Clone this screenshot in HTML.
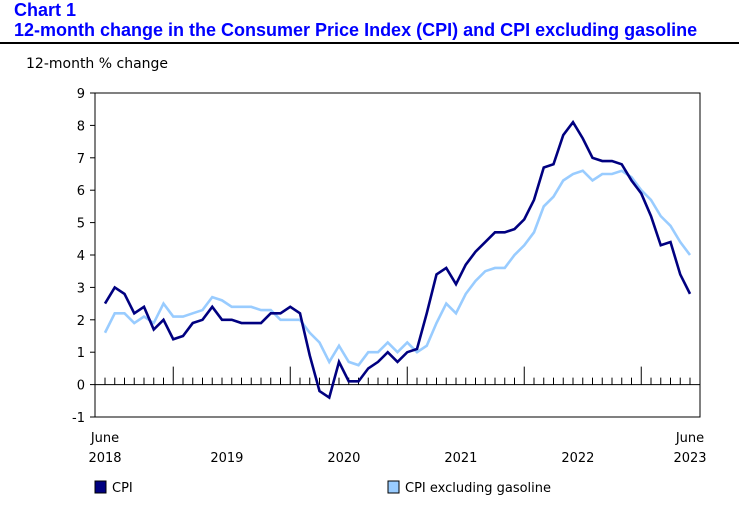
<!DOCTYPE html>
<html><head><meta charset="utf-8"><style>
body{margin:0;background:#fff;width:739px;height:507px;overflow:hidden;font-family:"Liberation Sans","DejaVu Sans",sans-serif}
.t{position:absolute;left:14px;color:#0000ff;font-weight:bold;font-size:18px;line-height:20px}
</style></head><body>
<div class="t" style="top:0px">Chart 1</div>
<div class="t" style="top:20px">12-month change in the Consumer Price Index (CPI) and CPI excluding gasoline</div>
<div style="position:absolute;left:0;top:42px;width:739px;height:2px;background:#000"></div>
<svg id="c" width="739" height="507" style="position:absolute;left:0;top:0" font-family="'DejaVu Sans','Liberation Sans',sans-serif" font-size="13">
<text x="26" y="68" font-size="14">12-month % change</text>
</svg>
<script>
const yTicks=[-1,0,1,2,3,4,5,6,7,8,9];
const years=["2018","2019","2020","2021","2022","2023"];
const cpi=[2.5,3.0,2.8,2.2,2.4,1.7,2.0,1.4,1.5,1.9,2.0,2.4,2.0,2.0,1.9,1.9,1.9,2.2,2.2,2.4,2.2,0.9,-0.2,-0.4,0.7,0.1,0.1,0.5,0.7,1.0,0.7,1.0,1.1,2.2,3.4,3.6,3.1,3.7,4.1,4.4,4.7,4.7,4.8,5.1,5.7,6.7,6.8,7.7,8.1,7.6,7.0,6.9,6.9,6.8,6.3,5.9,5.2,4.3,4.4,3.4,2.8];
const exGas=[1.6,2.2,2.2,1.9,2.1,1.9,2.5,2.1,2.1,2.2,2.3,2.7,2.6,2.4,2.4,2.4,2.3,2.3,2.0,2.0,2.0,1.6,1.3,0.7,1.2,0.7,0.6,1.0,1.0,1.3,1.0,1.3,1.0,1.2,1.9,2.5,2.2,2.8,3.2,3.5,3.6,3.6,4.0,4.3,4.7,5.5,5.8,6.3,6.5,6.6,6.3,6.5,6.5,6.6,6.4,6.0,5.7,5.2,4.9,4.4,4.0];
const svg=document.getElementById('c'),NS='http://www.w3.org/2000/svg';
const L=95,R=700,T=93,B=417;
const y=v=>B-(v+1)*(B-T)/10;
const x=i=>105+i*9.75;
function mk(tag,a){const e=document.createElementNS(NS,tag);for(const k in a)e.setAttribute(k,a[k]);svg.appendChild(e);return e;}
const fr=mk('rect',{x:L,y:T,width:R-L,height:B-T,fill:'none',stroke:'#000','stroke-width':1});


yTicks.forEach(v=>{
  const tk=mk('line',{x1:L-5,x2:L,y1:y(v),y2:y(v),stroke:'#000'});
  
  
  const t=mk('text',{x:L-10,y:y(v)+5,'text-anchor':'end'});t.textContent=v;
  
  
});
const zl=mk('line',{x1:L,x2:R,y1:y(0),y2:y(0),stroke:'#000'});


for(let i=0;i<cpi.length;i++){
  const big=(i-7)%12===0&&i>=7;
  const tk=mk('line',{x1:x(i),x2:x(i),y1:y(0)-(big?18:7),y2:y(0),stroke:'#000'});
  
  
}
years.forEach((yr,k)=>{
  let cx=k==0?x(0):k==5?x(60):(x(7+12*(k-1))+x(18+12*(k-1)))/2;
  const t=mk('text',{x:cx,y:462,'text-anchor':'middle'});t.textContent=yr;
  
  
});
[[0,'June'],[60,'June']].forEach(([i,s])=>{const t=mk('text',{x:x(i),y:442,'text-anchor':'middle'});t.textContent=s;
  
  });
function line(d,c,n){const p=mk('polyline',{points:d.map((v,i)=>x(i)+','+y(v)).join(' '),fill:'none',stroke:c,'stroke-width':2.6,'stroke-linejoin':'miter'});
  
  }
line(exGas,'#99ccff','cpi-ex-gasoline-line');
line(cpi,'#000080','cpi-line');
[[95,'#000080','CPI'],[388,'#99ccff','CPI excluding gasoline']].forEach(([lx,c,s])=>{
  const r=mk('rect',{x:lx,y:481,width:11,height:12,fill:c,stroke:'#000'});
  
  
  const t=mk('text',{x:lx+17,y:492});t.textContent=s;
  
  
});
</script>
</body></html>
